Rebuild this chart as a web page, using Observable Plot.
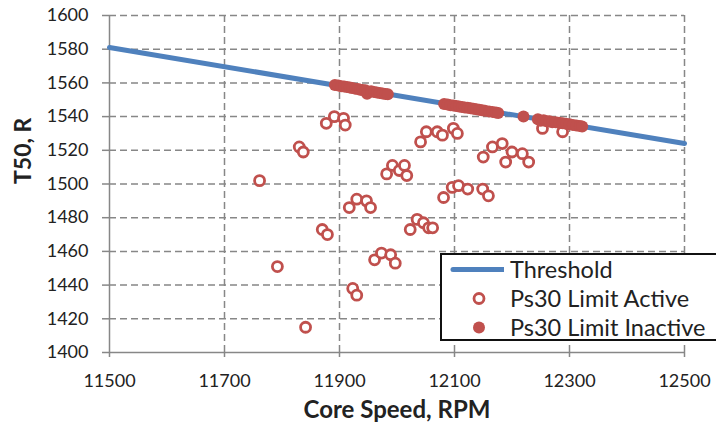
<!DOCTYPE html>
<html>
<head>
<meta charset="utf-8">
<script src="https://cdn.jsdelivr.net/npm/d3@7"></script>
<script src="https://cdn.jsdelivr.net/npm/@observablehq/plot@0.6"></script>
<style>
  html, body { margin: 0; padding: 0; background: #fff; overflow: hidden; }
  #wrap { position: relative; width: 716px; height: 431px; font-family: Lato, "Open Sans", sans-serif; }
  #legend { position: absolute; left: 440px; top: 253px; width: 300px; height: 84px; border: 2px solid #111; background: #fff; box-sizing: content-box; }
  .row { position: absolute; left: 0; height: 29px; display: flex; align-items: center; }
  .row span { position: absolute; left: 68px; font-size: 23.5px; color: #222; white-space: nowrap; line-height: 29px; }
</style>
</head>
<body>
<div id="wrap"></div>
<script>
// Threshold line (two end points)
const thresholdX = [11500, 12500];
const thresholdY = [1581, 1524];

// Ps30 Limit Active (hollow)
const activeX = [11761, 11792, 11830, 11837, 11841, 11870, 11877, 11879, 11891, 11907, 11910, 11917, 11923, 11930, 11930, 11947, 11954, 11961, 11973, 11982, 11989, 11992, 11997, 12004, 12013, 12017, 12023, 12035, 12041, 12046, 12051, 12055, 12062, 12070, 12079, 12081, 12096, 12098, 12105, 12107, 12123, 12149, 12150, 12159, 12166, 12183, 12189, 12200, 12218, 12229, 12253, 12288];
const activeY = [1502, 1451, 1522, 1519, 1415, 1473, 1536, 1470, 1540, 1539, 1535, 1486, 1438, 1491, 1434, 1490, 1486, 1455, 1459, 1506, 1458, 1511, 1453, 1508, 1511, 1505, 1473, 1479, 1525, 1477, 1531, 1474, 1474, 1531, 1529, 1492, 1498, 1533, 1530, 1499, 1497, 1497, 1516, 1493, 1522, 1524, 1513, 1519, 1518, 1513, 1533, 1531];

// Ps30 Limit Inactive (filled)
const inactiveX = [11892, 11898, 11903, 11908, 11913, 11918, 11922, 11927, 11932, 11936, 11940, 11945, 11948, 11955, 11960, 11965, 11970, 11975, 11980, 11984,
  12082, 12088, 12093, 12098, 12103, 12108, 12113, 12118, 12123, 12128, 12133, 12138, 12143, 12148, 12153, 12160, 12166, 12172, 12176,
  12220,
  12245, 12250, 12255, 12260, 12265, 12270, 12276, 12282, 12288, 12294, 12300, 12306, 12312, 12318, 12322];
const inactiveY = [1558.7, 1558.4, 1558.0, 1557.8, 1557.5, 1557.2, 1557.0, 1556.6, 1556.4, 1556.0, 1555.8, 1555.6, 1553.5, 1555.0, 1554.6, 1554.3, 1554.0, 1553.7, 1553.4, 1553.2,
  1547.5, 1547.2, 1546.8, 1546.6, 1546.3, 1546.0, 1545.7, 1545.4, 1545.2, 1544.9, 1544.6, 1544.3, 1544.0, 1543.8, 1543.5, 1543.1, 1542.8, 1542.4, 1542.2,
  1540.0,
  1538.4, 1537.6, 1537.9, 1537.2, 1537.3, 1536.6, 1536.7, 1536.4, 1536.0, 1535.7, 1535.4, 1535.0, 1534.7, 1534.4, 1534.1];

const xTicks = [11500, 11700, 11900, 12100, 12300, 12500];
const yTicks = [1400, 1420, 1440, 1460, 1480, 1500, 1520, 1540, 1560, 1580, 1600];
const xGrid = [11700, 11900, 12100, 12300, 12500];
const yGrid = [1420, 1440, 1460, 1480, 1500, 1520, 1540, 1560, 1580, 1600];

const xLabel = "Core Speed, RPM";
const yLabel = "T50, R";
const legendLabels = ["Threshold", "Ps30 Limit Active", "Ps30 Limit Inactive"];

const threshold = thresholdX.map((x, i) => ({x, y: thresholdY[i]}));
const active = activeX.map((x, i) => ({x, y: activeY[i]}));
const inactive = inactiveX.map((x, i) => ({x, y: inactiveY[i]}));

const gridColor = "#878787";
const blue = "#4F81BD";
const red = "#C0504D";

const chart = Plot.plot({
  width: 716,
  height: 431,
  marginLeft: 109,
  marginRight: 32,
  marginTop: 15,
  marginBottom: 79,
  style: {fontFamily: "Lato, 'Open Sans', sans-serif", fontSize: "18px", color: "#222", background: "#fff"},
  x: {domain: [11500, 12500]},
  y: {domain: [1400, 1600]},
  marks: [
    Plot.gridX(xGrid, {stroke: gridColor, strokeOpacity: 1, strokeWidth: 1.5, strokeDasharray: "7,4"}),
    Plot.gridY(yGrid, {stroke: gridColor, strokeOpacity: 1, strokeWidth: 1.5, strokeDasharray: "7,4"}),
    Plot.axisX(xTicks, {tickSize: 5, tickPadding: 17, tickFormat: "d", label: null, stroke: gridColor, strokeWidth: 1.5, fontSize: 18}),
    Plot.axisY(yTicks, {tickSize: 7, tickPadding: 14, tickFormat: "d", label: null, stroke: gridColor, strokeWidth: 1.5, fontSize: 18}),
    Plot.ruleX([11500], {stroke: gridColor, strokeWidth: 1.5}),
    Plot.ruleY([1400], {stroke: gridColor, strokeWidth: 1.5}),
    Plot.line(threshold, {x: "x", y: "y", stroke: blue, strokeWidth: 5}),
    Plot.dot(active, {x: "x", y: "y", r: 5, stroke: red, strokeWidth: 2.8, fill: "white"}),
    Plot.dot(inactive, {x: "x", y: "y", r: 6, fill: red}),
    Plot.text([xLabel], {frameAnchor: "bottom", dy: 65, fontWeight: "bold", fontSize: 24, fill: "#222"}),
    Plot.text([yLabel], {frameAnchor: "left", dx: -86, rotate: -90, fontWeight: "bold", fontSize: 23, fill: "#222"})
  ]
});

const wrap = document.getElementById("wrap");
wrap.appendChild(chart);

// legend
const legend = document.createElement("div");
legend.id = "legend";
const rowsSvg = [
  `<svg width="62" height="29"><line x1="11" y1="14.5" x2="64" y2="14.5" stroke="${blue}" stroke-width="5" stroke-linecap="round"/></svg>`,
  `<svg width="62" height="29"><circle cx="37" cy="14.5" r="5" fill="white" stroke="${red}" stroke-width="2.8"/></svg>`,
  `<svg width="62" height="29"><circle cx="37" cy="14.5" r="6" fill="${red}"/></svg>`
];
legendLabels.forEach((lab, i) => {
  const row = document.createElement("div");
  row.className = "row";
  row.style.top = (0 + i * 29) + "px";
  row.innerHTML = rowsSvg[i] + `<span>${lab}</span>`;
  legend.appendChild(row);
});
wrap.appendChild(legend);
</script>
</body>
</html>
